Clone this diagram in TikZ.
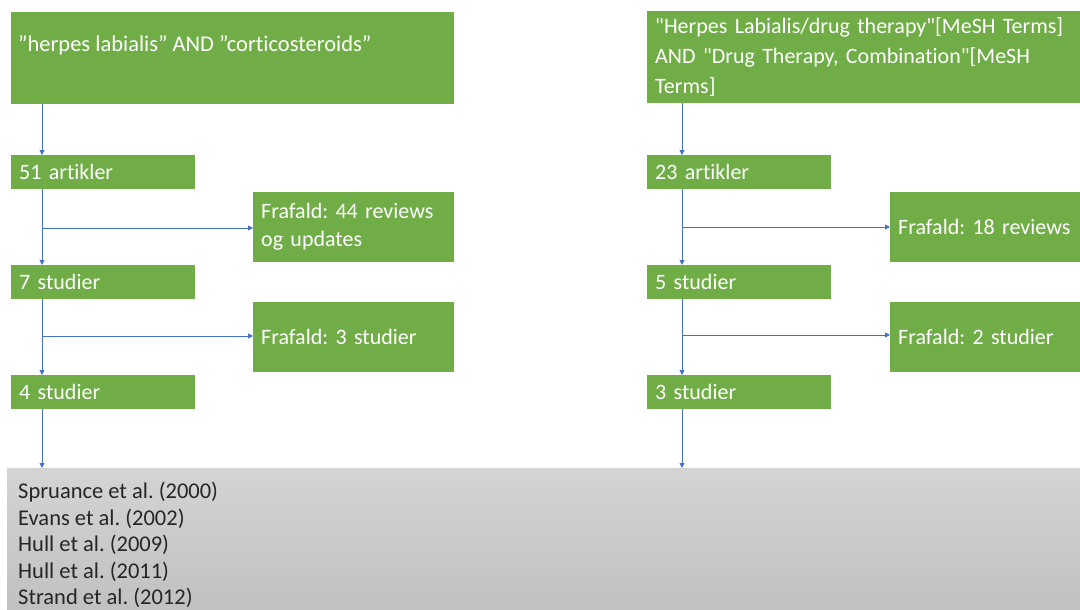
\documentclass[tikz,border=0pt]{standalone}
\usepackage{fontspec}
\newfontfamily\calfont{Carlito}[Ligatures=NoCommon]
\usetikzlibrary{arrows.meta,positioning}
\definecolor{grn}{HTML}{70AD47}
\definecolor{lnk}{HTML}{4472C4}
\definecolor{gtop}{HTML}{D4D4D4}
\definecolor{gbot}{HTML}{C0C0C0}
\begin{document}
\frenchspacing
\begin{tikzpicture}[x=1pt,y=-1pt,
  gbox/.style={fill=grn,draw=none,anchor=north west,inner xsep=8pt,inner ysep=0pt,
    text=white,font=\calfont\fontsize{22}{28}\selectfont,align=left},
  arr/.style={draw=lnk,line width=0.9pt,-{Triangle[width=5pt,length=5pt]}},
  ]
\useasboundingbox (0,0) rectangle (1080,610);
% gray results box
\shade[top color=gtop,bottom color=gbot] (7,468) rectangle (1085,615);
\node[anchor=north west,inner sep=0pt,align=left,text=black!85,
  font=\calfont\fontsize{22.5}{26.5}\selectfont] (res) at (18,482)
  {Spruance et al. (2000)\\Evans et al. (2002)\\Hull et al. (2009)\\Hull et al. (2011)\\Strand et al. (2012)};
\coordinate (restop) at (7,468);
% left column
\node[gbox,minimum width=443pt,minimum height=92pt] (q1) at (11,12) {};
\node[anchor=west,inner sep=0pt,text=white,font=\calfont\fontsize{22.5}{28}\selectfont] (q1t) at (18,45) {”herpes labialis” AND ”corticosteroids”};
\node[gbox,minimum width=184pt,minimum height=34pt,text width=168pt] (a51) at (11,155) {51 artikler};
\node[gbox,minimum width=201pt,minimum height=70pt,text width=185pt] (f44) at (253,192) {Frafald: 44 reviews\\og updates};
\node[gbox,minimum width=184pt,minimum height=34pt,text width=168pt] (s7) at (11,265) {7 studier};
\node[gbox,minimum width=201pt,minimum height=70pt,text width=185pt] (f3) at (253,302) {Frafald: 3 studier};
\node[gbox,minimum width=184pt,minimum height=34pt,text width=168pt] (s4) at (11,375) {4 studier};
% right column
\node[gbox,minimum width=440pt,minimum height=92pt,text width=424pt,font=\calfont\fontsize{22}{30}\selectfont] (q2) at (647,11) {"Herpes Labialis/drug therapy"[MeSH Terms]\\AND "Drug Therapy, Combination"[MeSH\\Terms]};
\node[gbox,minimum width=184pt,minimum height=34pt,text width=168pt] (a23) at (647,155) {23 artikler};
\node[gbox,minimum width=200pt,minimum height=70pt,text width=184pt] (f18) at (890,192) {Frafald: 18 reviews};
\node[gbox,minimum width=184pt,minimum height=34pt,text width=168pt] (s5) at (647,265) {5 studier};
\node[gbox,minimum width=200pt,minimum height=70pt,text width=184pt] (f2) at (890,302) {Frafald: 2 studier};
\node[gbox,minimum width=184pt,minimum height=34pt,text width=168pt] (s3) at (647,375) {3 studier};
% connectors
\coordinate (L) at (42,0);
\coordinate (R) at (682,0);
\coordinate (b1) at (42,228);
\coordinate (b2) at (42,336);
\coordinate (b3) at (682,227);
\coordinate (b4) at (682,335);
\draw[arr] (q1.south -| L) -- (a51.north -| L);
\draw[arr] (a51.south -| L) -- (s7.north -| L);
\draw[arr] (b1) -- (f44.west |- b1);
\draw[arr] (s7.south -| L) -- (s4.north -| L);
\draw[arr] (b2) -- (f3.west |- b2);
\draw[arr] (s4.south -| L) -- (restop -| L);
\draw[arr] (q2.south -| R) -- (a23.north -| R);
\draw[arr] (a23.south -| R) -- (s5.north -| R);
\draw[arr] (b3) -- (f18.west |- b3);
\draw[arr] (s5.south -| R) -- (s3.north -| R);
\draw[arr] (b4) -- (f2.west |- b4);
\draw[arr] (s3.south -| R) -- (restop -| R);
\end{tikzpicture}
\end{document}
